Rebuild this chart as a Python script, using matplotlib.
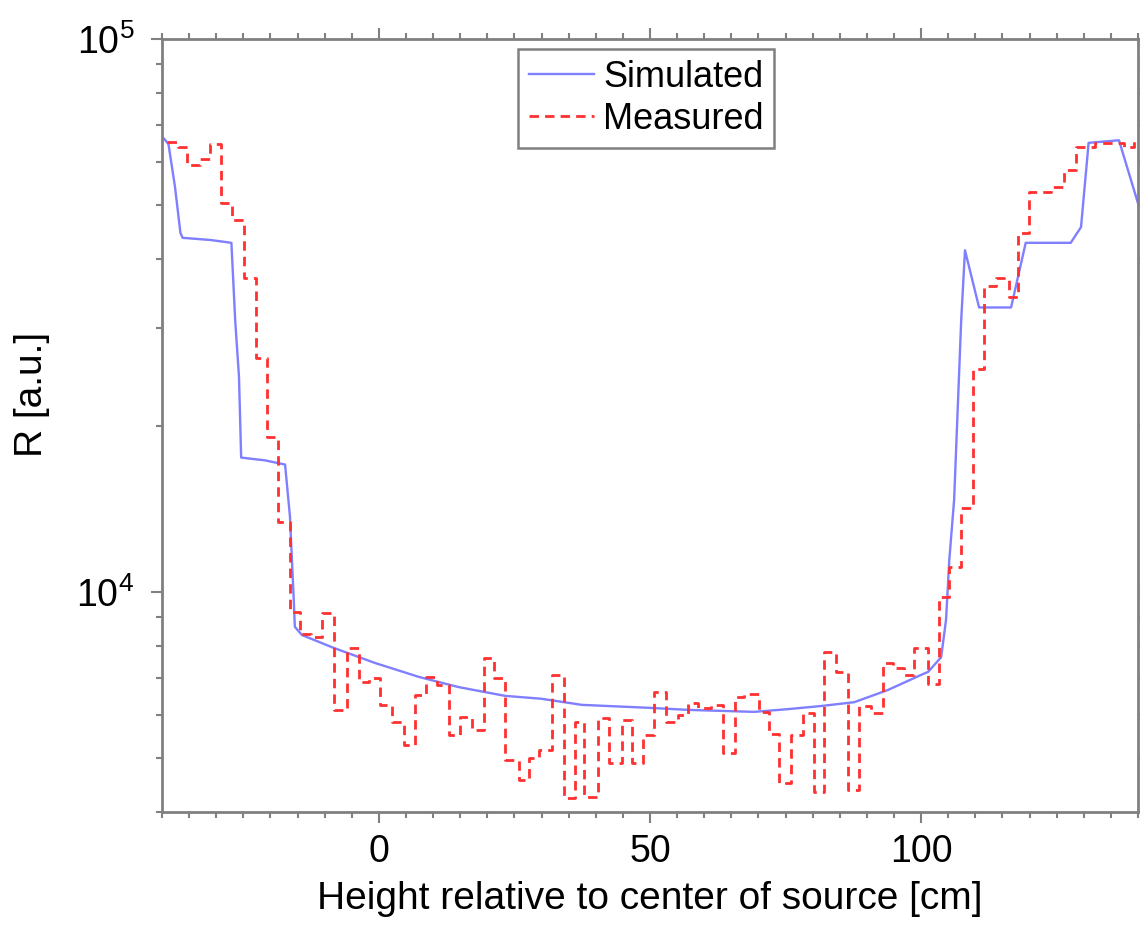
import matplotlib
matplotlib.use('Agg')
import matplotlib.pyplot as plt
from matplotlib.ticker import MultipleLocator, LogLocator, NullFormatter, LogFormatterSciNotation

plt.rcParams['font.family'] = ['Liberation Sans', 'DejaVu Sans']
plt.rcParams['mathtext.fontset'] = 'custom'
plt.rcParams['mathtext.rm'] = 'Liberation Sans'
plt.rcParams['mathtext.it'] = 'Liberation Sans:italic'
plt.rcParams['mathtext.bf'] = 'Liberation Sans:bold'

# simulated response (piecewise linear)
SIM_X = [-39.6, -38.8, -37.6, -36.6, -36.2, -31.0, -27.2, -26.5, -25.8, -25.4,
         -21.0, -17.3, -16.4, -15.7, -15.5, -14.2, -8.3, -0.7, 7.4, 14.7,
         23.2, 30.0, 37.4, 50.3, 57.1, 69.2, 75.5, 81.6, 87.7, 93.9,
         100.0, 101.3, 103.7, 104.6, 105.2, 106.1, 107.4, 108.1, 110.7, 116.6,
         119.3, 127.6, 129.5, 130.9, 136.5, 140.0]
SIM_Y = [66000, 64500, 54000, 44600, 43700, 43300, 42800, 31000, 24500, 17500,
         17300, 17000, 13700, 9680, 8650, 8360, 7920, 7440, 7020, 6730,
         6490, 6410, 6250, 6170, 6120, 6070, 6140, 6220, 6320, 6650,
         7080, 7170, 7620, 8900, 11400, 14700, 31000, 41500, 32700, 32700,
         42800, 42800, 45700, 64900, 65600, 50500]

# measured response (step edges and levels)
MEAS_X = [-39.0, -37.0, -35.4, -33.0, -31.1, -29.1, -27.1, -24.9, -22.7, -20.6,
          -18.6, -16.4, -14.5, -12.5, -10.5, -8.3, -5.9, -3.7, -1.8, 0.2,
          2.4, 4.6, 6.6, 8.7, 10.7, 12.9, 14.9, 17.1, 19.3, 21.2,
          23.2, 25.8, 27.6, 29.5, 31.9, 34.1, 36.1, 37.9, 40.5, 42.5,
          44.8, 46.6, 48.8, 50.8, 53.0, 55.2, 57.1, 58.9, 61.3, 63.5,
          65.6, 67.4, 70.2, 72.0, 73.8, 76.1, 78.3, 80.3, 82.1, 84.3,
          86.6, 88.6, 90.8, 93.0, 94.8, 96.9, 98.7, 101.3, 103.3, 105.2,
          107.4, 109.6, 111.6, 113.9, 116.2, 117.9, 119.9, 123.9, 126.3, 128.5,
          132.0, 137.5, 139.2, 140.0]
MEAS_Y = [65100, 63800, 59200, 60700, 64600, 50500, 47100, 37000, 26500, 19070,
          13380, 9200, 8400, 8300, 9160, 6120, 7920, 6880, 6990, 6250,
          5820, 5290, 6510, 7020, 6790, 5510, 5940, 5630, 7600, 6990,
          4970, 4570, 5010, 5180, 7080, 4240, 5820, 4260, 5920, 4910,
          5870, 4910, 5510, 6600, 5820, 5990, 6300, 6170, 6250, 5120,
          6460, 6540, 6070, 5540, 4510, 5510, 6040, 4350, 7790, 7170,
          4390, 6220, 6040, 7440, 7290, 7080, 7920, 6820, 9790, 11100,
          14200, 25300, 35800, 36900, 34200, 44600, 52900, 54000, 58000, 63800,
          64900, 63800, 65700, 65700]

FRAME = '#808080'

fig = plt.figure(figsize=(11.4, 9.38), dpi=100)
ax = fig.add_axes([0.1421, 0.1343, 0.8561, 0.8241])

ax.plot(SIM_X, SIM_Y, color='#7f7fff', lw=1.7, label='Simulated')
ax.plot(MEAS_X, MEAS_Y, color='#ff3030', lw=2.0, linestyle=(0, (3.4, 2.2)),
        drawstyle='steps-post', label='Measured')

ax.set_yscale('log')
ax.set_xlim(-40, 140)
ax.set_ylim(4000, 1e5)

ax.xaxis.set_major_locator(MultipleLocator(50))
ax.xaxis.set_minor_locator(MultipleLocator(5))
ax.yaxis.set_major_locator(LogLocator(base=10))
ax.yaxis.set_major_formatter(LogFormatterSciNotation())
ax.yaxis.set_minor_locator(LogLocator(base=10, subs=range(2, 10)))
ax.yaxis.set_minor_formatter(NullFormatter())

for s in ax.spines.values():
    s.set_color(FRAME)
    s.set_linewidth(2.0)
ax.tick_params(which='both', direction='out', top=True, right=True,
               color=FRAME, width=1.5, labelsize=27)
ax.tick_params(which='major', length=8, pad=12)
ax.tick_params(which='minor', length=4)
ax.tick_params(axis='x', which='major', pad=8)

ax.set_xlabel('Height relative to center of source [cm]', fontsize=28, labelpad=8)
ax.set_ylabel('R [a.u.]', fontsize=28)
ax.yaxis.set_label_coords(-0.115, 0.54)

leg = ax.legend(loc='upper left', bbox_to_anchor=(0.365, 0.987), fontsize=26,
                frameon=True, fancybox=False, edgecolor=FRAME, framealpha=1,
                handlelength=1.8, handletextpad=0.25, borderpad=0.3,
                labelspacing=0.2, borderaxespad=0)
leg.get_frame().set_linewidth(1.8)

fig.savefig('out.png', dpi=100)
